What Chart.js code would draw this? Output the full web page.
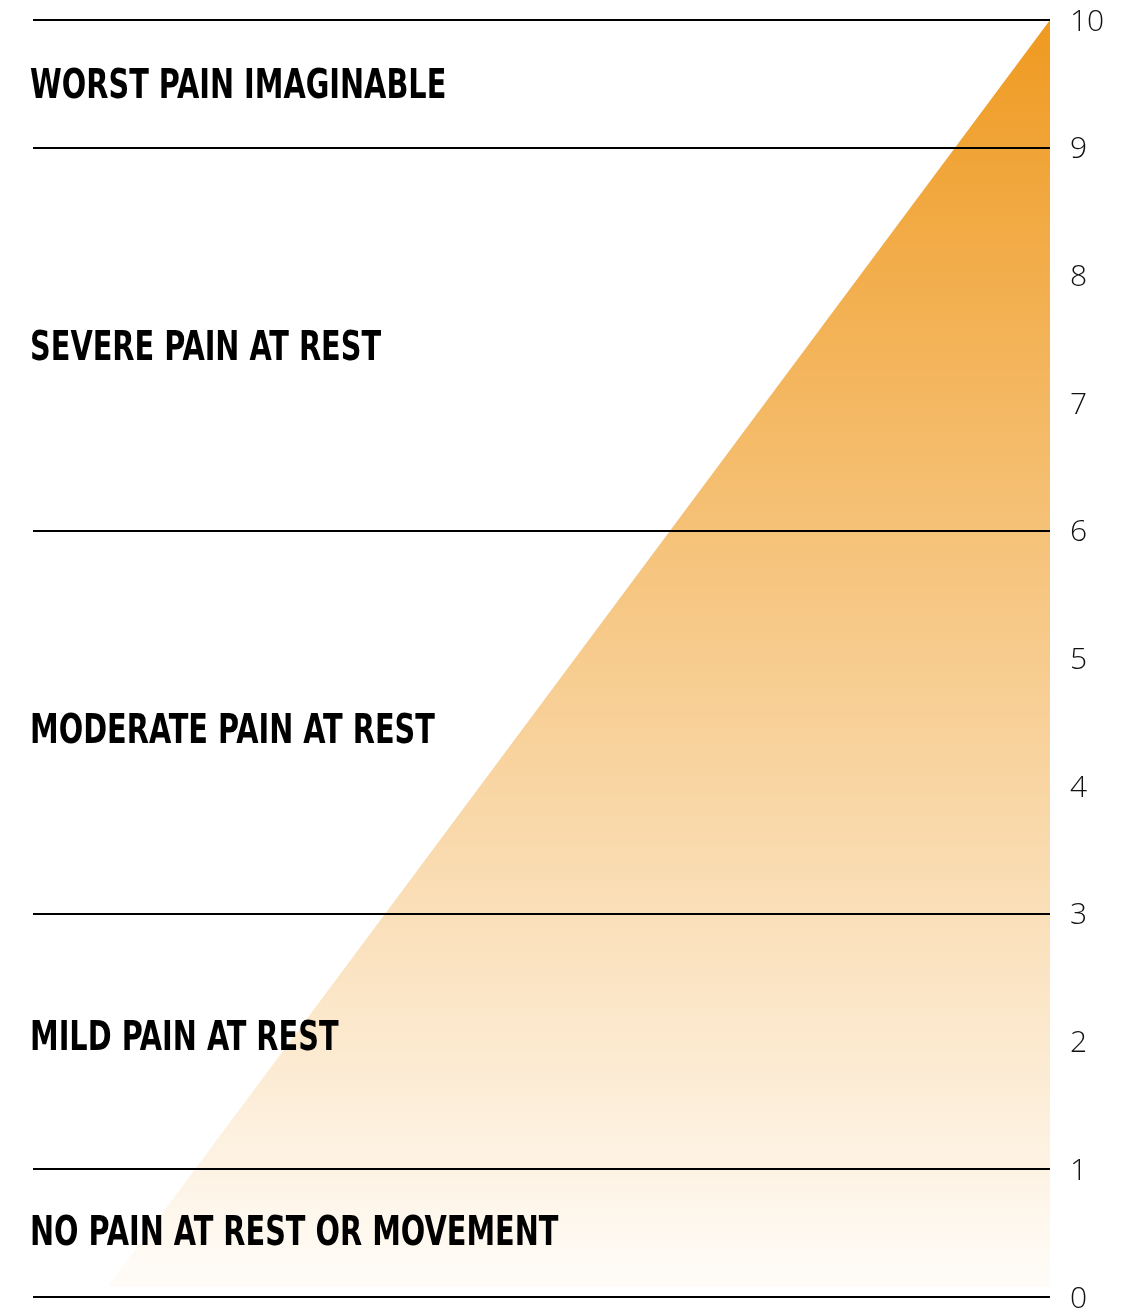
<!DOCTYPE html>
<html>
<head>
<meta charset="utf-8">
<script src="https://cdn.jsdelivr.net/npm/chart.js@4/dist/chart.umd.min.js"></script>
<style>
  html, body { margin: 0; padding: 0; background: #ffffff; }
  #wrap { width: 1139px; height: 1312px; position: relative; }
</style>
</head>
<body>
<div id="wrap"><canvas id="c"></canvas></div>
<script>
// ---- data ----
const tickValues = [0, 1, 2, 3, 4, 5, 6, 7, 8, 9, 10];
const boundaryValues = [0, 1, 3, 6, 9, 10];
const bandLabels = [
  'WORST PAIN IMAGINABLE',
  'SEVERE PAIN AT REST',
  'MODERATE PAIN AT REST',
  'MILD PAIN AT REST',
  'NO PAIN AT REST OR MOVEMENT'
];
const bandLabelValues = [9.5, 7.45, 4.45, 2.05, 0.52];
const triangleX = [0.08, 10, 10, 0.08];
const triangleY = [0.08, 10, 0.08, 0.08];
const gradientTop = '#EF9A21';
const gradientBottom = '#FFFDFA';

const trianglePoints = triangleX.map((x, i) => ({ x: x, y: triangleY[i] }));

const bandLabelPlugin = {
  id: 'bandLabels',
  afterDatasetsDraw(chart) {
    const ctx = chart.ctx;
    const ys = chart.scales.y;
    ctx.save();
    ctx.fillStyle = '#000000';
    ctx.font = 'bold 40px "DejaVu Sans Condensed", "DejaVu Sans", sans-serif';
    ctx.textAlign = 'left';
    ctx.textBaseline = 'middle';
    const sx = 0.80;
    bandLabels.forEach((t, i) => {
      const y = ys.getPixelForValue(bandLabelValues[i]);
      ctx.save();
      ctx.translate(30, y);
      ctx.scale(sx, 1);
      ctx.fillText(t, 0, 4);
      ctx.restore();
    });
    ctx.restore();
  }
};

new Chart(document.getElementById('c'), {
  type: 'line',
  data: {
    datasets: [{
      data: trianglePoints,
      fill: 'shape',
      borderWidth: 0,
      borderColor: 'rgba(0,0,0,0)',
      pointRadius: 0,
      tension: 0,
      backgroundColor(context) {
        const chart = context.chart;
        const area = chart.chartArea;
        if (!area) return gradientTop;
        const g = chart.ctx.createLinearGradient(0, area.top, 0, area.bottom);
        g.addColorStop(0, gradientTop);
        g.addColorStop(1, gradientBottom);
        return g;
      }
    }]
  },
  options: {
    responsive: true,
    maintainAspectRatio: false,
    animation: false,
    layout: { padding: { left: 33, top: 20, right: 0, bottom: 15 } },
    plugins: { legend: { display: false }, tooltip: { enabled: false } },
    scales: {
      x: {
        type: 'linear',
        min: -0.705,
        max: 10,
        display: false
      },
      y: {
        type: 'linear',
        position: 'right',
        min: 0,
        max: 10,
        afterBuildTicks(scale) {
          scale.ticks = tickValues.map(v => ({ value: v }));
        },
        afterFit(scale) {
          scale.width = 89;
          scale.paddingTop = 0;
          scale.paddingBottom = 0;
        },
        border: { display: false },
        grid: {
          drawTicks: false,
          lineWidth: 2,
          z: 1,
          color(ctx) {
            return (ctx.tick && boundaryValues.includes(ctx.tick.value)) ? '#000000' : 'rgba(0,0,0,0)';
          }
        },
        ticks: {
          padding: 20,
          labelOffset: 2,
          color: '#111111',
          font: { family: '"Open Sans", "Noto Sans", sans-serif', size: 30, weight: '300' },
          callback: (v) => String(v)
        }
      }
    }
  },
  plugins: [bandLabelPlugin]
});
</script>
</body>
</html>
